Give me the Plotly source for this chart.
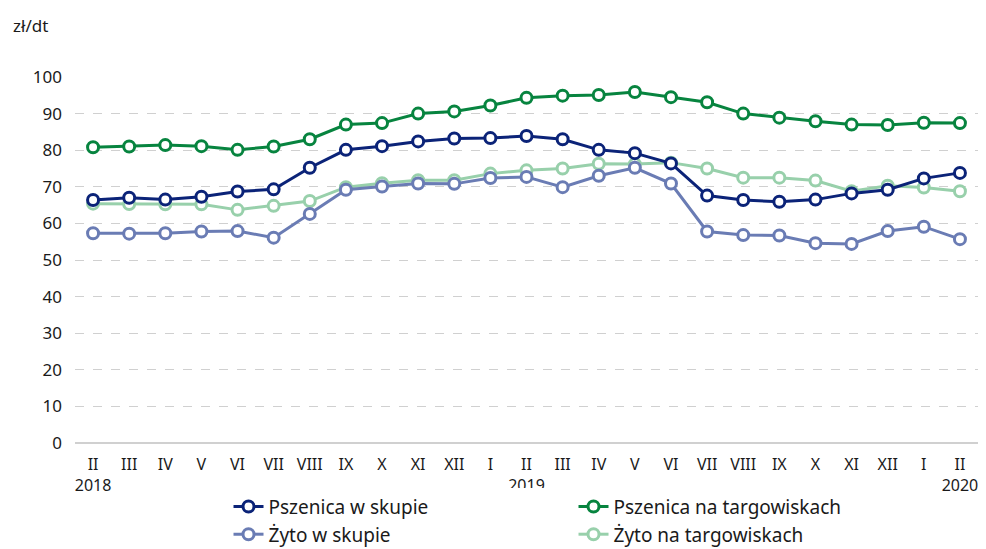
import plotly.graph_objects as go

# ---------------------------------------------------------------------------
# Data: monthly prices, II 2018 – II 2020 (zł/dt)
# ---------------------------------------------------------------------------
periods = [
    "2018-02", "2018-03", "2018-04", "2018-05", "2018-06", "2018-07", "2018-08",
    "2018-09", "2018-10", "2018-11", "2018-12", "2019-01", "2019-02", "2019-03",
    "2019-04", "2019-05", "2019-06", "2019-07", "2019-08", "2019-09", "2019-10",
    "2019-11", "2019-12", "2020-01", "2020-02",
]
month_labels = [
    "II", "III", "IV", "V", "VI", "VII", "VIII", "IX", "X", "XI", "XII",
    "I", "II", "III", "IV", "V", "VI", "VII", "VIII", "IX", "X", "XI", "XII",
    "I", "II",
]
year_labels = {0: "2018", 12: "2019", 24: "2020"}

pszenica_skup = [66.4, 67.0, 66.5, 67.3, 68.7, 69.3, 75.2, 80.1, 81.1, 82.4, 83.2,
                 83.3, 83.9, 83.0, 80.1, 79.2, 76.4, 67.6, 66.4, 65.9, 66.5, 68.2,
                 69.2, 72.3, 73.8]
pszenica_targ = [80.8, 81.0, 81.4, 81.1, 80.1, 81.0, 83.0, 87.0, 87.4, 90.0, 90.6,
                 92.2, 94.3, 94.9, 95.1, 95.9, 94.5, 93.1, 90.0, 88.9, 87.9, 87.0,
                 86.9, 87.5, 87.4]
zyto_skup = [57.3, 57.2, 57.3, 57.8, 57.9, 56.1, 62.6, 69.2, 70.1, 70.9, 70.8,
             72.4, 72.7, 69.9, 73.0, 75.2, 70.9, 57.8, 56.8, 56.7, 54.6, 54.4,
             57.9, 59.1, 55.7]
zyto_targ = [65.4, 65.3, 65.2, 65.2, 63.7, 64.8, 66.1, 69.9, 71.0, 71.8, 71.8,
             73.6, 74.5, 75.0, 76.3, 76.2, 76.6, 75.0, 72.5, 72.5, 71.7, 68.8,
             70.3, 69.8, 68.8]

tick_text = [
    f"{m}<br>{year_labels[i]}" if i in year_labels else m
    for i, m in enumerate(month_labels)
]

# Colours
_NAVY = "#0b2378"
_GREEN = "#07843f"
_SLATE = "#6a7cb4"
_MINT = "#98d0ab"

_FONT = "Noto Sans"
_TEXT = "#1a1a1a"

series = [
    ("Pszenica w skupie", pszenica_skup, _NAVY),
    ("Pszenica na targowiskach", pszenica_targ, _GREEN),
    ("Żyto w skupie", zyto_skup, _SLATE),
    ("Żyto na targowiskach", zyto_targ, _MINT),
]

fig = go.Figure()

# Draw in reverse so the first series sits on top; legend keeps original order
for idx, (name, values, color) in reversed(list(enumerate(series))):
    fig.add_trace(go.Scatter(
        x=periods,
        y=values,
        name=name,
        mode="lines+markers",
        line=dict(color=color, width=3),
        marker=dict(symbol="circle", size=11, color="white",
                    line=dict(color=color, width=3)),
        legendrank=idx + 1,
    ))

# page body adds an 8px offset, so the figure is a bit smaller than the window
fig.add_annotation(
    text="zł/dt", xref="paper", yref="paper",
    x=-0.071, y=1.142, xanchor="left", yanchor="middle",
    showarrow=False, font=dict(size=17, color=_TEXT),
)

fig.update_layout(
    width=978, height=541,
    plot_bgcolor="white", paper_bgcolor="white",
    font=dict(family=_FONT, size=16, color=_TEXT),
    margin=dict(t=69, b=106, l=67, r=8, autoexpand=False),
    showlegend=True,
    legend=dict(
        orientation="h",
        x=0.17, y=-0.122,
        xanchor="left", yanchor="top",
        entrywidth=300, entrywidthmode="pixels",
        font=dict(size=19),
        tracegroupgap=0,
    ),
    xaxis=dict(
        type="category",
        tickvals=periods,
        ticktext=tick_text,
        tickfont=dict(size=16),
        showgrid=False,
        showline=False,
        ticks="",
        ticklabelstandoff=10,
        automargin=False,
        range=[-0.5, len(periods) - 0.5],
    ),
    yaxis=dict(
        range=[0, 100],
        dtick=10,
        tickfont=dict(size=17),
        showgrid=True,
        gridcolor="#d0d0d0",
        griddash="dash",
        gridwidth=1,
        zeroline=True,
        zerolinecolor="#d0d0d0",
        zerolinewidth=2,
        ticks="",
        ticklabelstandoff=12,
        automargin=False,
    ),
)

fig.write_html("out.html")
